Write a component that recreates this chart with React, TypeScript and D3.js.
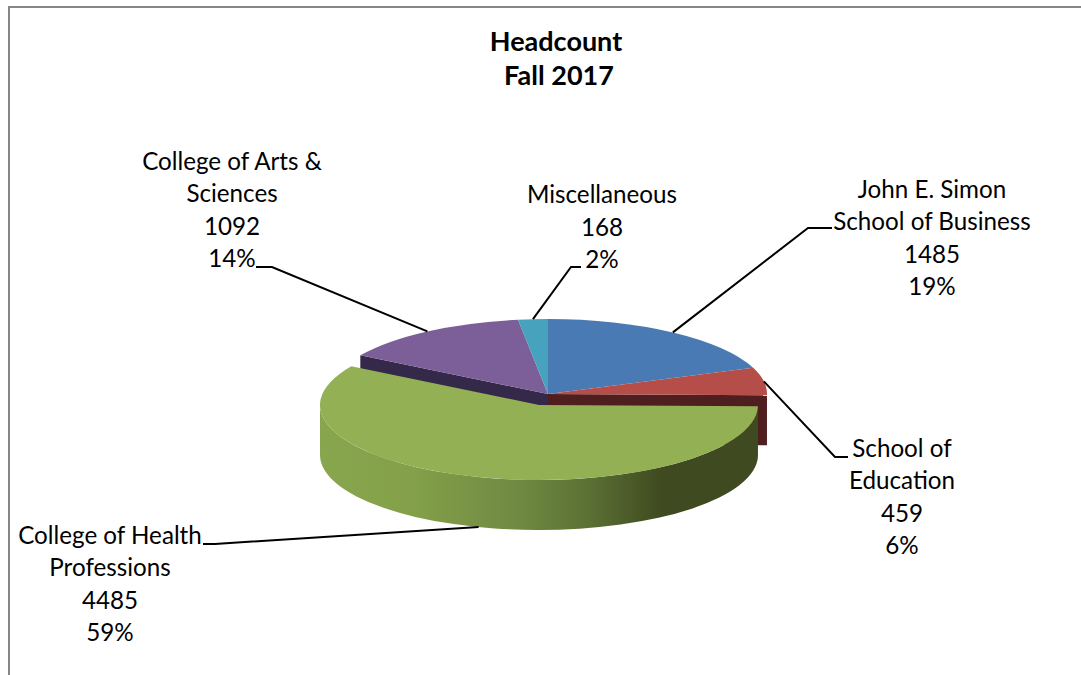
import React from "react";
import * as d3 from "d3";

const categories = ["John E. Simon School of Business", "School of Education", "College of Health Professions", "College of Arts & Sciences", "Miscellaneous"];
const values = [1485, 459, 4485, 1092, 168];
const percents = ["19%", "6%", "59%", "14%", "2%"];
const topColors = ["#4a7ab3", "#b54d48", "#93b055", "#7c5f98", "#46a2bd"];
const titleLines = ["Headcount", "Fall 2017"];
const labelLines = [
  ["John E. Simon", "School of Business"],
  ["School of", "Education"],
  ["College of Health", "Professions"],
  ["College of Arts &", "Sciences"],
  ["Miscellaneous"],
];

const W = 1081, H = 675;
const RX = 219, RY = 75, DEPTH = 50;
const mainC: [number, number] = [548, 394];
const greenC: [number, number] = [539, 405];
const labelX = [932, 902, 110, 232, 602];
const labelBottomBaseline = [295, 554, 641, 267, 268];
const elbows: [number, number, number][] = [[808, 228, 832], [835, 457, 848], [215, 544, 203], [272, 267, 256], [571, 267, 581]];
const FONT = "Lato, 'Open Sans', sans-serif";

const slices = d3.pie<number>().sort(null).value((d) => d)(values);
const arcGen = d3.arc<d3.PieArcDatum<number>>().innerRadius(0).outerRadius(RX);
const px = (c: [number, number], a: number) => c[0] + RX * Math.sin(a);
const py = (c: [number, number], a: number) => c[1] - RY * Math.cos(a);

function sideWall(c: [number, number], a0: number, a1: number) {
  const sweep = 0;
  const from = Math.max(a0, Math.PI / 2), to = Math.min(a1, (3 * Math.PI) / 2);
  return `M${px(c, from)},${py(c, from)}A${RX},${RY} 0 0 1 ${px(c, to)},${py(c, to)}L${px(c, to)},${py(c, to) + DEPTH}A${RX},${RY} 0 0 ${sweep} ${px(c, from)},${py(c, from) + DEPTH}Z`;
}
function cutFace(c: [number, number], a: number) {
  return `M${c[0]},${c[1]}L${px(c, a)},${py(c, a)}L${px(c, a)},${py(c, a) + DEPTH}L${c[0]},${c[1] + DEPTH}Z`;
}

export default function App() {
  const mid = (s: d3.PieArcDatum<number>) => (s.startAngle + s.endAngle) / 2;
  return (
    <svg width={W} height={H} viewBox={`0 0 ${W} ${H}`} style={{ position: "absolute", left: 0, top: 0, display: "block", background: "#fff" }}>
      <defs>
        <linearGradient id="greenWall" gradientUnits="userSpaceOnUse" x1={greenC[0] - RX} x2={greenC[0] + RX} y1="0" y2="0">
          <stop offset="0" stopColor="#88a64e" />
          <stop offset="0.2" stopColor="#84a14a" />
          <stop offset="0.45" stopColor="#708a42" />
          <stop offset="0.62" stopColor="#5a6f33" />
          <stop offset="0.78" stopColor="#3f4a20" />
          <stop offset="1" stopColor="#3f4a20" />
        </linearGradient>
      </defs>
      <path d={`M9,${H}V7H${W}`} fill="none" stroke="#868686" strokeWidth={2} />

      <path d={cutFace(mainC, slices[1].endAngle)} fill="#4f1e1e" />
      <path d={cutFace(mainC, slices[3].startAngle)} fill="#35294a" />
      {[0, 1, 3, 4].map((i) => (
        <path key={i} d={arcGen(slices[i]) ?? ""} fill={topColors[i]} transform={`translate(${mainC[0]},${mainC[1]}) scale(1,${RY / RX})`} />
      ))}
      <path d={sideWall(greenC, slices[2].startAngle, slices[2].endAngle)} fill="url(#greenWall)" />
      <path d={arcGen(slices[2]) ?? ""} fill={topColors[2]} transform={`translate(${greenC[0]},${greenC[1]}) scale(1,${RY / RX})`} />

      {slices.map((s, i) => {
        const isGreen = i === 2;
        const c = isGreen ? greenC : mainC;
        const a = mid(s);
        const [ex, ey, endX] = elbows[i];
        return <polyline key={i} points={`${px(c, a)},${py(c, a) + (isGreen ? DEPTH : 0)} ${ex},${ey} ${endX},${ey}`} fill="none" stroke="#000" strokeWidth={2} />;
      })}

      <g fontFamily={FONT} fill="#000" textAnchor="middle">
        <text x={556} y={51} fontSize={27} fontWeight={700}>{titleLines[0]}</text>
        <text x={559} y={85} fontSize={27} fontWeight={700}>{titleLines[1]}</text>
        {categories.map((name, i) => {
          const lines = [...labelLines[i], String(values[i]), percents[i]];
          return (
            <text key={name} fontSize={24.2}>
              {lines.map((l, j) => (
                <tspan key={j} x={labelX[i]} y={labelBottomBaseline[i] - (lines.length - 1 - j) * 32.5}>{l}</tspan>
              ))}
            </text>
          );
        })}
      </g>
    </svg>
  );
}
